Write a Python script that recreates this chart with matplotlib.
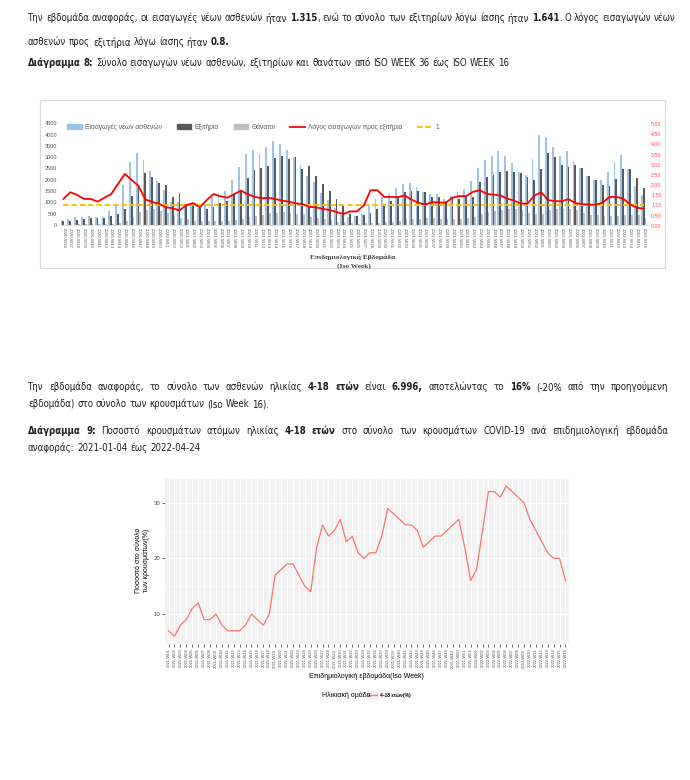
import matplotlib
matplotlib.use("Agg")
import matplotlib.pyplot as plt
import numpy as np
from matplotlib.lines import Line2D
from matplotlib.patches import Patch, Rectangle

W, H = 690, 780

# Diagram 8: ISO weeks 2020-W36 .. 2022-W16
weeks_8 = ([f"2020-W{w:02d}" for w in range(36, 54)]
           + [f"2021-W{w:02d}" for w in range(1, 53)]
           + [f"2022-W{w:02d}" for w in range(1, 17)])
admissions = [220, 260, 350, 340, 400, 370, 420, 610, 950, 1780,
              2770, 3190, 2870, 2400, 1940, 1530, 1010, 1000, 860, 870,
              740, 870, 1260, 1400, 1510, 1990, 2570, 3130, 3310, 3130,
              3450, 3720, 3580, 3300, 3020, 2650, 2190, 1910, 1420, 1120,
              770, 450, 370, 420, 470, 835, 1130, 1230, 1390, 1640,
              1830, 1860, 1660, 1470, 1350, 1350, 1130, 1300, 1450, 1610,
              1960, 2520, 2890, 3050, 3280, 3040, 2750, 2340, 2210, 2920,
              3990, 3890, 3440, 3050, 3270, 2830, 2540, 2170, 2000, 2010,
              2350, 2800, 3080, 2480, 1730, 1315]
discharges = [190, 160, 230, 270, 310, 320, 310, 390, 470, 720,
              1290, 1790, 2280, 2140, 1860, 1760, 1240, 1430, 930, 880,
              770, 710, 800, 960, 1060, 1360, 1540, 2090, 2420, 2510,
              2600, 2980, 3060, 2920, 3020, 2480, 2610, 2170, 1810, 1490,
              1140, 860, 500, 390, 440, 513, 690, 910, 1040, 1250,
              1470, 1520, 1510, 1470, 1230, 1250, 1060, 1220, 1130, 1230,
              1230, 1920, 2140, 2200, 2350, 2400, 2350, 2320, 2130, 2000,
              2480, 3180, 2990, 2660, 2580, 2650, 2540, 2160, 2010, 1760,
              1730, 2040, 2470, 2490, 2100, 1641]
deaths = [15, 20, 25, 30, 30, 40, 40, 50, 90, 180,
          340, 590, 660, 700, 620, 520, 410, 310, 260, 190,
          190, 180, 190, 160, 190, 230, 270, 370, 410, 430,
          510, 520, 560, 530, 490, 500, 370, 330, 270, 210,
          150, 130, 80, 60, 80, 100, 100, 130, 145, 175,
          250, 280, 280, 295, 310, 250, 265, 280, 280, 295,
          350, 470, 590, 600, 650, 700, 720, 650, 540, 500,
          500, 660, 700, 730, 700, 680, 540, 450, 440, 380,
          380, 410, 430, 450, 440, 320]
ratio = [1.28, 1.61, 1.48, 1.28, 1.28, 1.15, 1.34, 1.52, 2.02, 2.51,
         2.21, 1.92, 1.26, 1.13, 1.05, 0.87, 0.82, 0.72, 0.97, 1.08,
         0.87, 1.23, 1.52, 1.41, 1.34, 1.51, 1.69, 1.51, 1.39, 1.31,
         1.34, 1.28, 1.20, 1.15, 1.07, 1.03, 0.89, 0.87, 0.79, 0.74,
         0.64, 0.54, 0.67, 0.67, 0.96, 1.71, 1.71, 1.38, 1.38, 1.37,
         1.45, 1.25, 1.09, 1.01, 1.12, 1.11, 1.09, 1.34, 1.42, 1.42,
         1.63, 1.71, 1.53, 1.49, 1.45, 1.30, 1.20, 1.06, 1.05, 1.45,
         1.61, 1.23, 1.17, 1.17, 1.27, 1.08, 1.03, 1.00, 1.00, 1.10,
         1.38, 1.38, 1.30, 1.02, 0.85, 0.80]
reference_level = 1.0

# Diagram 9: share of 4-18 year olds, 2021-W01 .. 2022-W16
weeks_9 = [f"2021-W{w:02d}" for w in range(1, 53)] + [f"2022-W{w:02d}" for w in range(1, 17)]
pct_4_18 = [7, 6, 8, 9, 11, 12, 9, 9, 10, 8,
            7, 7, 7, 8, 10, 9, 8, 10, 17, 18,
            19, 19, 17, 15, 14, 22, 26, 24, 25, 27,
            23, 24, 21, 20, 21, 21, 24, 29, 28, 27,
            26, 26, 25, 22, 23, 24, 24, 25, 26, 27,
            22, 16, 18, 25, 32, 32, 31, 33, 32, 31,
            30, 27, 25, 23, 21, 20, 20, 16]

TEXT_FONT = ["DejaVu Sans"]
SANS = ["Liberation Sans", "DejaVu Sans"]
SERIF = ["Liberation Serif", "DejaVu Serif"]

LINE_1 = ("Την εβδομάδα αναφοράς, οι εισαγωγές νέων ασθενών ήταν **1.315**, ενώ το σύνολο "
          "των εξιτηρίων λόγω ίασης ήταν **1.641**. Ο λόγος εισαγωγών νέων")
LINE_2 = "ασθενών προς εξιτήρια λόγω ίασης ήταν **0.8.**"
LINE_3 = ("**Διάγραμμα 8:** Σύνολο εισαγωγών νέων ασθενών, εξιτηρίων και θανάτων "
          "από ISO WEEK 36 έως ISO WEEK 16")
PARA_1 = ("Την εβδομάδα αναφοράς, το σύνολο των ασθενών ηλικίας **4-18 ετών** είναι "
          "**6.996,** αποτελώντας το **16%** (-20% από την προηγούμενη")
PARA_2 = "εβδομάδα) στο σύνολο των κρουσμάτων (Iso Week 16)."
CAP_1 = ("**Διάγραμμα 9:** Ποσοστό κρουσμάτων ατόμων ηλικίας **4-18 ετών** στο σύνολο "
         "των κρουσμάτων COVID-19 ανά επιδημιολογική εβδομάδα")
CAP_2 = "αναφοράς: 2021-01-04 έως 2022-04-24"


def fx(x):
    return x / W


def fy(y):
    return 1 - y / H


def parse_words(line):
    # '**' toggles bold; returns words made of (text, bold) pieces
    words, cur, buf = [], [], ""
    for k, tok in enumerate(line.split("**")):
        bold = k % 2 == 1
        for ch in tok:
            if ch == " ":
                if buf:
                    cur.append((buf, bold))
                    buf = ""
                if cur:
                    words.append(cur)
                    cur = []
            else:
                buf += ch
        if buf:
            cur.append((buf, bold))
            buf = ""
    if cur:
        words.append(cur)
    return words


def rich_line(fig, x0, y, line, x1=None, size=8, color="#1f1f1f"):
    """Draw a line with bold runs; justify to x1 if given. Returns right edge."""
    renderer = fig.canvas.get_renderer()
    kw = dict(fontsize=size, family=TEXT_FONT, fontstretch="condensed", color=color,
              va="center", ha="left")
    a = fig.text(0, 0, "a a", **kw)
    b = fig.text(0, 0, "aa", **kw)
    space = a.get_window_extent(renderer).width - b.get_window_extent(renderer).width
    a.remove()
    b.remove()
    placed, widths = [], []
    for word in parse_words(line):
        pieces, total = [], 0
        for s, bold in word:
            t = fig.text(0, fy(y), s, fontweight="bold" if bold else "normal", **kw)
            w = t.get_window_extent(renderer).width
            pieces.append((t, w))
            total += w
        placed.append(pieces)
        widths.append(total)
    gap = space
    if x1 is not None and len(widths) > 1:
        gap = (x1 - x0 - sum(widths)) / (len(widths) - 1)
    x = x0
    for pieces, total in zip(placed, widths):
        for t, w in pieces:
            t.set_x(fx(x))
            x += w
        x += gap
    return x - gap


def clear_texts(fig):
    for t in list(fig.texts):
        t.remove()


fig = plt.figure(figsize=(W / 100, H / 100), dpi=100)
fig.patch.set_facecolor("white")

# calibrate text size so the caption of diagram 8 ends where it does on the page
right = rich_line(fig, 28, 63, LINE_3, size=8)
clear_texts(fig)
body = 8 * (503 - 28) / (right - 28)

rich_line(fig, 28, 18, LINE_1, x1=675, size=body)
rich_line(fig, 28, 42, LINE_2, size=body)
rich_line(fig, 28, 63, LINE_3, size=body)

# ---- Diagram 8 (Excel style) ----
fig.add_artist(Rectangle((fx(40), fy(268)), 625 / W, 168 / H, transform=fig.transFigure,
                         fill=False, edgecolor="#D9D9D9", lw=0.8))
ax1 = fig.add_axes([fx(60), fy(225), (647 - 60) / W, (225 - 123.3) / H])
x8 = np.arange(len(weeks_8))
bw = 0.27
ax1.bar(x8 - bw, admissions, bw, color="#9DC3E6")
ax1.bar(x8, discharges, bw, color="#595959")
ax1.bar(x8 + bw, deaths, bw, color="#BFBFBF")
ax1.set_xlim(-0.5, len(weeks_8) - 0.5)
ax1.set_ylim(0, 4500)
ax1.set_yticks(np.arange(0, 4501, 500))
ax1.set_xticks(x8)
ax1.set_xticklabels(weeks_8, rotation=-90, fontsize=3.2, color="#595959", family=SANS)
for lab in ax1.get_yticklabels():
    lab.set_fontsize(4)
    lab.set_color("#595959")
    lab.set_family(SANS)
ax1.tick_params(length=0, pad=2)
for s in ax1.spines.values():
    s.set_visible(False)
ax1.spines["bottom"].set_visible(True)
ax1.spines["bottom"].set_color("#D9D9D9")
ax1.spines["bottom"].set_linewidth(0.6)

axr = ax1.twinx()
axr.plot(x8, [reference_level] * len(x8), color="#FFC000", lw=1.4, ls=(0, (2.8, 1.5)))
axr.plot(x8, ratio, color="#FF0000", lw=1.3)
axr.set_ylim(0, 5)
axr.set_yticks(np.arange(0, 5.01, 0.5))
axr.set_yticklabels([f"{v:.2f}".replace(".", ",") for v in np.arange(0, 5.01, 0.5)],
                    fontsize=3.8, color="#FF4040", family=SANS)
axr.tick_params(length=0, pad=3)
for s in axr.spines.values():
    s.set_visible(False)

handles = [Patch(color="#9DC3E6"), Patch(color="#595959"), Patch(color="#BFBFBF"),
           Line2D([], [], color="#FF0000", lw=1.3),
           Line2D([], [], color="#FFC000", lw=1.4, ls=(0, (2.8, 1.5)))]
labels = ["Εισαγωγές νέων ασθενών", "Εξιτήρια", "Θάνατοι",
          "Λόγος εισαγωγών προς εξιτήρια", "1"]
leg = fig.legend(handles, labels, ncol=5, loc="center", bbox_to_anchor=(fx(253), fy(127)),
                 frameon=False, prop={"family": SANS, "size": 4.8}, handlelength=2.2,
                 handleheight=0.6, columnspacing=2.2, handletextpad=0.5)
for t in leg.get_texts():
    t.set_color("#595959")

fig.text(fx(353), fy(257), "Επιδημιολογική Εβδομάδα", ha="center", va="center",
         fontsize=5.3, fontweight="bold", family=SERIF, color="#404040")
fig.text(fx(354), fy(266), "(Iso Week)", ha="center", va="center",
         fontsize=5.3, fontweight="bold", family=SERIF, color="#404040")

# text above diagram 9
rich_line(fig, 28, 387, PARA_1, x1=668, size=body)
rich_line(fig, 28, 404, PARA_2, size=body)
rich_line(fig, 28, 431, CAP_1, x1=668, size=body)
rich_line(fig, 28, 448, CAP_2, size=body)

# ---- Diagram 9 (ggplot style) ----
ax2 = fig.add_axes([fx(165), fy(643.8), (569 - 165) / W, (643.8 - 478.5) / H])
x9 = np.arange(len(weeks_9))
ax2.set_facecolor("#F2F2F2")
ax2.set_xlim(-0.6, len(weeks_9) - 0.4)
ax2.set_ylim(4.65, 34.35)
for v in [5, 15, 25]:
    ax2.axhline(v, color="white", lw=0.4, zorder=0)
for v in [10, 20, 30]:
    ax2.axhline(v, color="white", lw=0.9, zorder=0)
for v in x9:
    ax2.axvline(v, color="white", lw=0.7, zorder=0)
ax2.plot(x9, pct_4_18, color="#F8766D", lw=0.9)
ax2.set_yticks([10, 20, 30])
ax2.set_xticks(x9)
ax2.set_xticklabels(weeks_9, rotation=90, fontsize=3, color="#4D4D4D", family=SANS)
for lab in ax2.get_yticklabels():
    lab.set_fontsize(4.3)
    lab.set_color("#4D4D4D")
    lab.set_family(SANS)
ax2.tick_params(length=2, width=0.5, color="#333333", pad=1.5)
for s in ax2.spines.values():
    s.set_visible(False)

fig.text(fx(142.5), fy(560), "Ποσοστό στο σύνολο\nτων κρουσμάτων(%)", rotation=90,
         ha="center", va="center", fontsize=5, family=SANS, color="black", linespacing=1.1)
fig.text(fx(366.5), fy(676), "Επιδημιολογική εβδομάδα(Iso Week)", ha="center", va="center",
         fontsize=5, family=SANS, color="black")
fig.text(fx(322), fy(695), "Ηλικιακή ομάδα", ha="left", va="center",
         fontsize=5, family=SANS, color="black")
fig.add_artist(Rectangle((fx(367), fy(700)), 11 / W, 10 / H, transform=fig.transFigure,
                         facecolor="#F2F2F2", edgecolor="none"))
fig.add_artist(Line2D([fx(368), fx(377)], [fy(695), fy(695)], transform=fig.transFigure,
                      color="#F8766D", lw=0.9))
fig.text(fx(380), fy(695), "4-18 ετών(%)", ha="left", va="center",
         fontsize=3.6, family=SANS, fontweight="bold", color="black")

fig.savefig("out.png", dpi=100)
